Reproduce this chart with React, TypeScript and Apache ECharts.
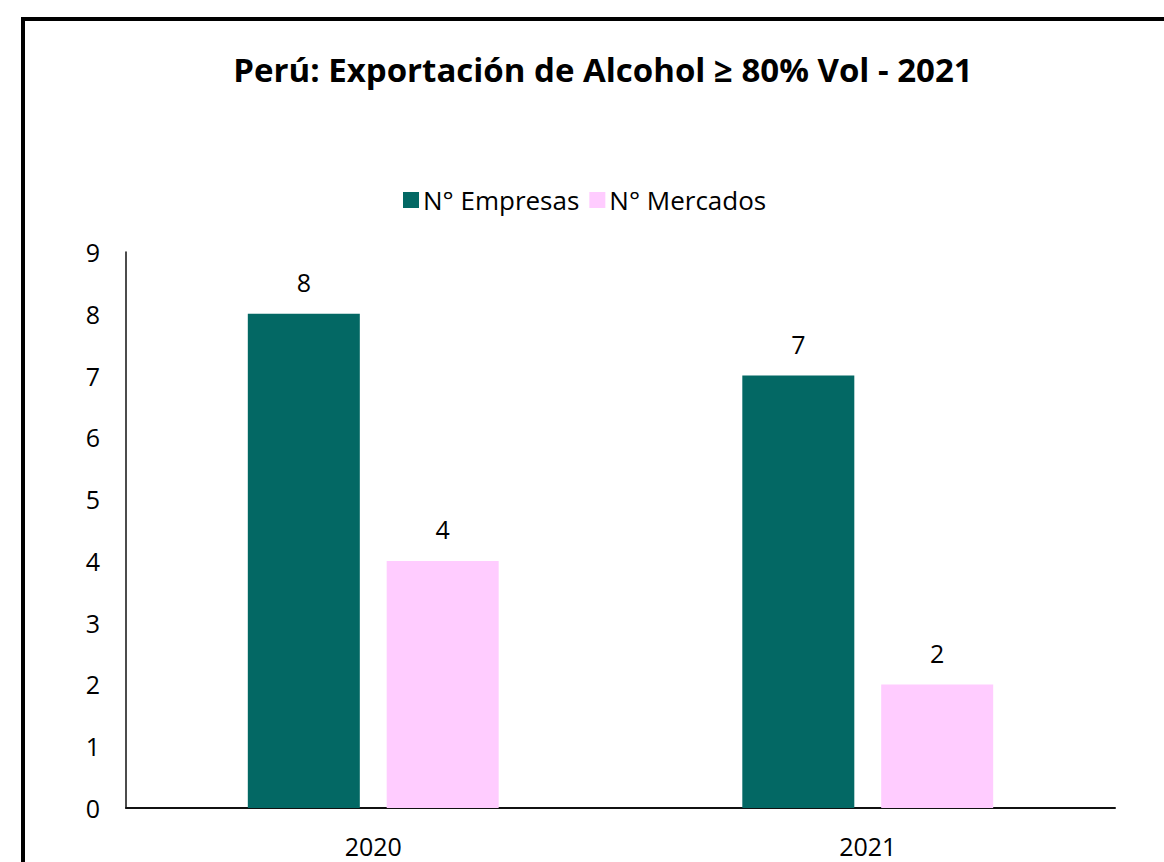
import React, { useEffect, useRef } from "react";
import * as echarts from "echarts";

const titleText = "Perú: Exportación de Alcohol ≥ 80% Vol - 2021";
const categories = ["2020", "2021"];
const empresas = [8, 7];
const mercados = [4, 2];
const seriesNames = ["N° Empresas", "N° Mercados"];

const FONT = "'Open Sans', sans-serif";

export default function App() {
  const ref = useRef<HTMLDivElement>(null);
  useEffect(() => {
    if (!ref.current) return;
    const chart = echarts.init(ref.current, null, { renderer: "svg" });
    chart.setOption({
      animation: false,
      backgroundColor: "#ffffff",
      textStyle: { fontFamily: FONT },
      title: {
        text: titleText,
        left: 598,
        textAlign: "center",
        top: 48,
        textStyle: { fontSize: 33, fontWeight: "bold", color: "#000", fontFamily: FONT },
      },
      legend: {
        data: seriesNames,
        left: 398,
        top: 182,
        icon: "rect",
        itemWidth: 16,
        itemHeight: 16,
        itemGap: 10,
        textStyle: { fontSize: 26, color: "#000", fontFamily: FONT, padding: [0, 0, 0, -1] },
      },
      graphic: [
        {
          type: "rect",
          shape: { x: 23, y: 19, width: 1160, height: 900 },
          style: { fill: "none", stroke: "#000", lineWidth: 4 },
          silent: true,
        },
      ],
      grid: { left: 126, right: 49, top: 252, bottom: 54 },
      xAxis: {
        type: "category",
        data: categories,
        axisLine: { show: true, lineStyle: { color: "#111", width: 2 } },
        axisTick: { show: false },
        axisLabel: { fontSize: 25, lineHeight: 26, color: "#000", margin: 25, fontFamily: FONT },
      },
      yAxis: {
        type: "value",
        min: 0,
        max: 9,
        interval: 1,
        splitLine: { show: false },
        axisLine: { show: true, lineStyle: { color: "#111", width: 1.5 } },
        axisTick: { show: false },
        axisLabel: { fontSize: 25, color: "#000", margin: 26, fontFamily: FONT },
      },
      series: [
        {
          name: seriesNames[0],
          type: "bar",
          data: empresas,
          barWidth: 112,
          barGap: "24%",
          itemStyle: { color: "#036864" },
          label: { show: true, position: "top", distance: 19, fontSize: 25, color: "#000", fontFamily: FONT },
        },
        {
          name: seriesNames[1],
          type: "bar",
          data: mercados,
          barWidth: 112,
          itemStyle: { color: "#FFCCFF" },
          label: { show: true, position: "top", distance: 19, fontSize: 25, color: "#000", fontFamily: FONT },
        },
      ],
    });
    return () => chart.dispose();
  }, []);
  return (
    <div
      ref={ref}
      style={{ position: "fixed", left: 0, top: 0, width: 1164, height: 862 }}
    />
  );
}
